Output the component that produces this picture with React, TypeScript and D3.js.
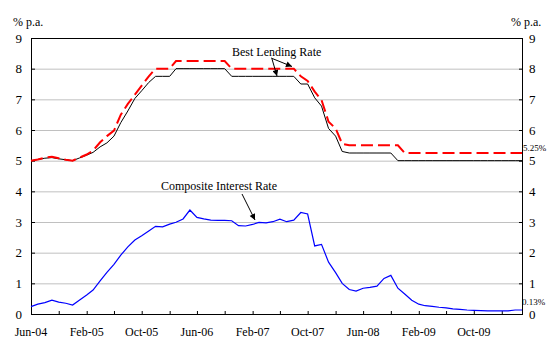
import React from "react";
import * as d3 from "d3";

// ---- data (monthly, Jun-04 .. May-10) ----
const startMonth = new Date(2004, 5, 1);
const endMonth = new Date(2010, 4, 1);
const months = d3.timeMonth.range(startMonth, new Date(2010, 5, 1));

const blrLow = [
  5.0, 5.04, 5.08, 5.1, 5.06, 5.03, 5.0, 5.09, 5.18, 5.27, 5.45, 5.58,
  5.8, 6.24, 6.62, 7.03, 7.28, 7.55, 7.75, 7.75, 7.75, 8.0, 8.0, 8.0,
  8.0, 8.0, 8.0, 8.0, 8.0, 7.75, 7.75, 7.75, 7.75, 7.75, 7.75, 7.75,
  7.75, 7.75, 7.75, 7.5, 7.5, 7.05, 6.78, 6.05, 5.8, 5.3, 5.25, 5.25,
  5.25, 5.25, 5.25, 5.25, 5.25, 5.0, 5.0, 5.0, 5.0, 5.0, 5.0, 5.0,
  5.0, 5.0, 5.0, 5.0, 5.0, 5.0, 5.0, 5.0, 5.0, 5.0, 5.0, 5.0,
];

const blrHigh = [
  5.0, 5.04, 5.1, 5.13, 5.08, 5.03, 5.0, 5.1, 5.2, 5.33, 5.6, 5.8,
  5.98, 6.5, 6.85, 7.15, 7.45, 7.75, 8.0, 8.0, 8.0, 8.25, 8.25, 8.25,
  8.25, 8.25, 8.25, 8.25, 8.25, 8.0, 8.0, 8.0, 8.0, 8.0, 8.0, 8.0,
  8.0, 8.0, 8.0, 7.75, 7.6, 7.25, 6.98, 6.27, 6.05, 5.55, 5.5, 5.5,
  5.5, 5.5, 5.5, 5.5, 5.5, 5.5, 5.25, 5.25, 5.25, 5.25, 5.25, 5.25,
  5.25, 5.25, 5.25, 5.25, 5.25, 5.25, 5.25, 5.25, 5.25, 5.25, 5.25, 5.25,
];

const composite = [
  0.24, 0.32, 0.37, 0.45, 0.39, 0.35, 0.29, 0.46, 0.62, 0.78, 1.08, 1.36,
  1.62, 1.92, 2.19, 2.41, 2.55, 2.71, 2.86, 2.84, 2.93, 2.99, 3.1, 3.39,
  3.15, 3.1, 3.06, 3.05, 3.05, 3.04, 2.88, 2.87, 2.92, 2.99, 2.97, 3.01,
  3.09, 3.01, 3.06, 3.31, 3.26, 2.22, 2.27, 1.69, 1.35, 1.0, 0.8, 0.75,
  0.84, 0.87, 0.91, 1.16, 1.26, 0.84, 0.65, 0.45, 0.32, 0.27, 0.25, 0.22,
  0.2, 0.17, 0.15, 0.13, 0.12, 0.11, 0.1, 0.1, 0.1, 0.1, 0.13, 0.13,
];

const yTicks = [0, 1, 2, 3, 4, 5, 6, 7, 8, 9];
const xTickDates = d3.timeMonth.range(startMonth, new Date(2010, 3, 1), 4);
const xLabelEvery = 2;
const unitLabel = "% p.a.";
const blrLabel = "Best Lending Rate";
const compLabel = "Composite Interest Rate";
const blrEndLabel = "5.25%";
const compEndLabel = "0.13%";

const W = 552;
const H = 344;
const FONT = "Liberation Serif, DejaVu Serif, Times New Roman, serif";

export default function App() {
  const x = d3.scaleTime().domain([startMonth, endMonth]).range([31, 522]);
  const y = d3.scaleLinear().domain([0, 9]).range([314, 38]);
  const fmt = d3.timeFormat("%b-%y");

  const line = (vals: number[]) =>
    d3
      .line<number>()
      .x((_, i) => x(months[i]))
      .y((v) => y(v))(vals) || "";

  const [x0, x1] = x.range();
  const [y0, y1] = y.range();
  const ts = (size: number) => ({ fontFamily: FONT, fontSize: size + "px" });

  return (
    <div style={{ position: "absolute", left: 0, top: 0 }}>
      <svg width={W} height={H} style={{ display: "block", background: "#fff", fontFamily: FONT }}>
        <defs>
          <marker id="arr" viewBox="0 0 10 10" refX="10" refY="5" markerWidth="7" markerHeight="6" orient="auto" markerUnits="userSpaceOnUse">
            <path d="M0,0 L10,5 L0,10 z" fill="#000" />
          </marker>
        </defs>
        {/* gridlines */}
        {yTicks.slice(1, -1).map((t) => (
          <line key={"g" + t} x1={x0} x2={x1} y1={y(t) + 0.5} y2={y(t) + 0.5} stroke="#c0c0c0" strokeWidth={1} />
        ))}
        {/* plot border */}
        <rect x={x0 + 0.5} y={y1 + 0.5} width={x1 - x0} height={y0 - y1} fill="none" stroke="#000" strokeWidth={1} />
        {/* y ticks and labels */}
        {yTicks.map((t) => (
          <g key={"y" + t}>
            <line x1={x0} x2={x0 + 4} y1={y(t) + 0.5} y2={y(t) + 0.5} stroke="#000" />
            <line x1={x1 - 3} x2={x1 + 1} y1={y(t) + 0.5} y2={y(t) + 0.5} stroke="#000" />
            <text x={22} y={y(t)} dy="0.36em" textAnchor="end" style={ts(13)}>
              {t}
            </text>
            <text x={529} y={y(t)} dy="0.36em" textAnchor="start" style={ts(13)}>
              {t}
            </text>
          </g>
        ))}
        {/* x ticks and labels */}
        {xTickDates.map((d, i) => (
          <g key={"x" + i}>
            <line x1={x(d) + 0.5} x2={x(d) + 0.5} y1={y0 - 3} y2={y0} stroke="#000" />
            {i % xLabelEvery === 0 && (
              <text x={x(d)} y={336} textAnchor="middle" style={ts(12)}>
                {fmt(d)}
              </text>
            )}
          </g>
        ))}
        <text x={13} y={26} style={ts(12)}>{unitLabel}</text>
        <text x={511} y={26} style={ts(12)}>{unitLabel}</text>

        {/* series */}
        <path d={line(blrLow)} fill="none" stroke="#000" strokeWidth={1} />
        <path d={line(blrHigh)} fill="none" stroke="#ff0000" strokeWidth={2} strokeDasharray="12,5" />
        <path d={line(composite)} fill="none" stroke="#0000ff" strokeWidth={1.2} />

        {/* end labels */}
        <text x={523} y={151} style={ts(9)}>{blrEndLabel}</text>
        <text x={522} y={305} style={ts(9)}>{compEndLabel}</text>

        {/* annotations */}
        <text x={232} y={56} style={ts(12)}>{blrLabel}</text>
        <line x1={271} y1={58} x2={292} y2={66.5} stroke="#000" strokeWidth={1} markerEnd="url(#arr)" />
        <line x1={272} y1={59} x2={277} y2={76} stroke="#000" strokeWidth={1} markerEnd="url(#arr)" />
        <text x={161} y={190} style={ts(12)}>{compLabel}</text>
        <line x1={242} y1={194} x2={255} y2={220} stroke="#000" strokeWidth={1} markerEnd="url(#arr)" />
      </svg>
    </div>
  );
}
